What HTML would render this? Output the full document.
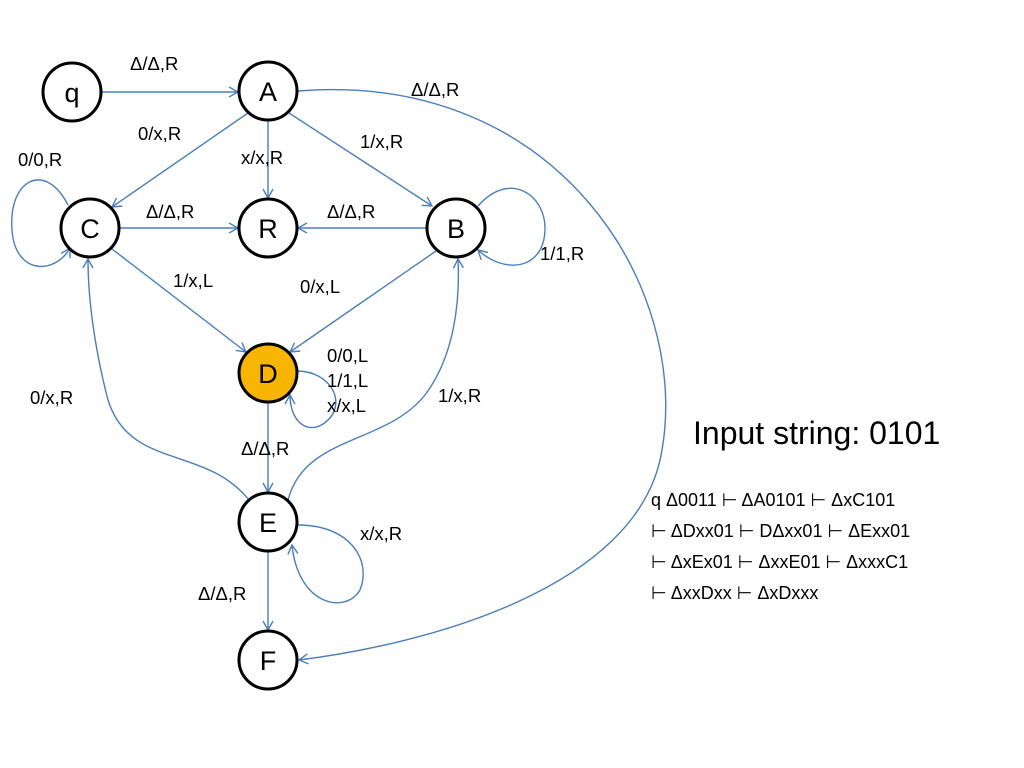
<!DOCTYPE html>
<html><head><style>
body{margin:0;background:#fff;}
svg{display:block;font-family:"Liberation Sans","DejaVu Sans",sans-serif;}
</style></head><body>
<svg width="1024" height="768" viewBox="0 0 1024 768" xmlns="http://www.w3.org/2000/svg">
<defs>
<marker id="a" markerWidth="12" markerHeight="12" refX="10" refY="6" orient="auto" markerUnits="userSpaceOnUse">
<path d="M1,1 L10,6 L1,11" fill="none" stroke="#4a7ebb" stroke-width="1.4"/>
</marker>
</defs>
<g fill="none" stroke="#4a7ebb" stroke-width="1.4" marker-end="url(#a)">
<path d="M102,92 L238,92"/>
<path d="M248,113 L112,207"/>
<path d="M268,121 L268,198"/>
<path d="M289,113 L432,206"/>
<path d="M120,228 L238,228"/>
<path d="M426,228 L298,228"/>
<path d="M112,249 L246,352"/>
<path d="M436,251 L290,352"/>
<path d="M268,403 L268,492"/>
<path d="M268,552 L268,630"/>
<path d="M298,91 C 560,70 690,290 662,450 C 640,590 420,645 299,660"/>
<path d="M249,500 C 205,445 130,470 108,400 C 95,350 88,300 88,259"/>
<path d="M288,500 C 305,435 385,445 425,395 C 455,355 460,300 458,259"/>
<path d="M68,205 C 45,160 8,180 12,230 C 15,275 55,275 70,248"/>
<path d="M478,206 C 510,170 545,195 545,228 C 545,270 505,275 478,250"/>
<path d="M298,371 C 330,372 345,400 330,418 C 312,438 290,425 290,395"/>
<path d="M298,525 C 350,525 372,560 360,590 C 345,615 298,605 292,545"/>
</g>
<g stroke="#000" stroke-width="3" fill="#fff">
<circle cx="72" cy="92" r="29"/>
<circle cx="268" cy="91" r="29"/>
<circle cx="90" cy="228" r="29"/>
<circle cx="268" cy="228" r="29"/>
<circle cx="456" cy="228" r="29"/>
<circle cx="268" cy="373" r="29" fill="#f7b500"/>
<circle cx="268" cy="522" r="29"/>
<circle cx="268" cy="660" r="29"/>
</g>
<g font-size="27" text-anchor="middle" fill="#000">
<text x="72" y="102">q</text>
<text x="268" y="101">A</text>
<text x="90" y="238">C</text>
<text x="268" y="238">R</text>
<text x="456" y="238">B</text>
<text x="268" y="383">D</text>
<text x="268" y="532">E</text>
<text x="268" y="670">F</text>
</g>
<g font-size="18.5" fill="#000">
<text x="130" y="70">Δ/Δ,R</text>
<text x="411" y="96">Δ/Δ,R</text>
<text x="138" y="140">0/x,R</text>
<text x="241" y="164">x/x,R</text>
<text x="360" y="148">1/x,R</text>
<text x="18" y="166">0/0,R</text>
<text x="146" y="218">Δ/Δ,R</text>
<text x="327" y="218">Δ/Δ,R</text>
<text x="540" y="260">1/1,R</text>
<text x="173" y="287">1/x,L</text>
<text x="300" y="293">0/x,L</text>
<text x="327" y="362">0/0,L</text>
<text x="327" y="387">1/1,L</text>
<text x="327" y="412">x/x,L</text>
<text x="30" y="404">0/x,R</text>
<text x="438" y="402">1/x,R</text>
<text x="241" y="455">Δ/Δ,R</text>
<text x="360" y="540">x/x,R</text>
<text x="198" y="600">Δ/Δ,R</text>
</g>
<text x="693" y="444" font-size="32" fill="#000">Input string: 0101</text>
<g font-size="18" fill="#000">
<text x="651" y="506">q Δ0011 ⊢ ΔA0101 ⊢ ΔxC101</text>
<text x="651" y="537">⊢ ΔDxx01 ⊢ DΔxx01 ⊢ ΔExx01</text>
<text x="651" y="568">⊢ ΔxEx01 ⊢ ΔxxE01 ⊢ ΔxxxC1</text>
<text x="651" y="599">⊢ ΔxxDxx ⊢ ΔxDxxx</text>
</g>
</svg>
</body></html>
